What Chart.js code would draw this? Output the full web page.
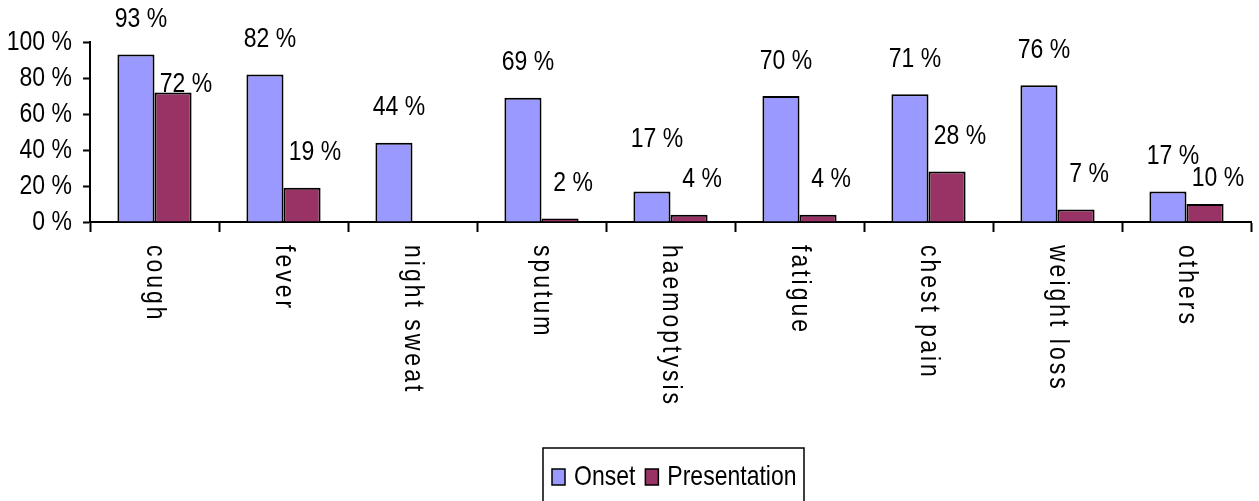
<!DOCTYPE html>
<html lang="en">
<head>
  <meta charset="UTF-8" />
  <title>Symptoms at onset and presentation</title>
  <script src="https://cdn.jsdelivr.net/npm/chart.js@4.4.0/dist/chart.umd.min.js"></script>
  <style>
    html, body { margin: 0; padding: 0; background: #fff; overflow: hidden; }
    canvas { display: block; }
  </style>
</head>
<body>
  <canvas id="symptomChart" width="1259" height="501"></canvas>

  <script>
    // --- data ---------------------------------------------------------
    const categories = ['cough', 'fever', 'night sweat', 'sputum', 'haemoptysis',
                        'fatigue', 'chest pain', 'weight loss', 'others'];
    const onset = [93, 82, 44, 69, 17, 70, 71, 76, 17];
    const presentation = [72, 19, null, 2, 4, 4, 28, 7, 10];
    const yTicks = [0, 20, 40, 60, 80, 100];

    const FONT = '23px "Liberation Sans", Arial, sans-serif';
    const STRETCH = 1.2; // text in the original is a bit taller than wide

    function drawText(ctx, text, x, y, align) {
      ctx.save();
      ctx.translate(x, y);
      ctx.scale(1, STRETCH);
      ctx.font = FONT;
      ctx.fillStyle = '#000';
      ctx.textAlign = align || 'center';
      ctx.textBaseline = 'middle';
      ctx.fillText(text, 0, 0);
      ctx.restore();
    }

    // label nudges (dataset, index) -> distance above bar top
    const labelLift = { '1-0': 8, '0-4': 52, '1-8': 26 };
    const labelShift = [5, 13];

    // --- custom drawing: y tick labels, value labels, rotated categories, legend
    const decor = {
      id: 'decor',
      afterDraw(chart) {
        const ctx = chart.ctx;
        const area = chart.chartArea;
        const y = chart.scales.y;
        const x = chart.scales.x;

        yTicks.forEach(v => {
          drawText(ctx, v + ' %', 72, y.getPixelForValue(v), 'right');
        });

        chart.data.datasets.forEach((ds, di) => {
          chart.getDatasetMeta(di).data.forEach((bar, i) => {
            const v = ds.data[i];
            if (v === null) return;
            const lift = labelLift[di + '-' + i] || 35;
            drawText(ctx, v + ' %', bar.x + labelShift[di], bar.y - lift, 'center');
          });
        });

        categories.forEach((c, i) => {
          ctx.save();
          ctx.translate(x.getPixelForValue(i), area.bottom + 23);
          ctx.rotate(Math.PI / 2);
          ctx.scale(1, STRETCH);
          ctx.font = FONT;
          ctx.letterSpacing = '3px';
          ctx.fillStyle = '#000';
          ctx.textAlign = 'left';
          ctx.textBaseline = 'middle';
          ctx.fillText(c, 0, 0);
          ctx.restore();
        });

        // legend box at the bottom
        const lx = 543, ly = 448, lw = 261, lh = 60;
        ctx.save();
        ctx.strokeStyle = '#000';
        ctx.lineWidth = 1.5;
        ctx.strokeRect(lx, ly, lw, lh);
        let cx = lx + 9;
        const cy = 477;
        chart.data.datasets.forEach(ds => {
          ctx.fillStyle = ds.backgroundColor;
          ctx.fillRect(cx, cy - 8, 13, 16);
          ctx.lineWidth = 1.5;
          ctx.strokeRect(cx, cy - 8, 13, 16);
          ctx.font = FONT;
          const w = ctx.measureText(ds.label).width;
          drawText(ctx, ds.label, cx + 22, cy, 'left');
          cx += 22 + w + 10;
        });
        ctx.restore();
      }
    };

    new Chart(document.getElementById('symptomChart'), {
      type: 'bar',
      data: {
        labels: categories,
        datasets: [
          { label: 'Onset', data: onset, backgroundColor: '#9999FF',
            borderColor: '#000', borderWidth: 2 },
          { label: 'Presentation', data: presentation, backgroundColor: '#993366',
            borderColor: '#000', borderWidth: 2 }
        ]
      },
      options: {
        responsive: false,
        animation: false,
        devicePixelRatio: 1,
        categoryPercentage: 0.575,
        barPercentage: 1,
        layout: { padding: { top: 42, right: 8, left: 0, bottom: 0 } },
        plugins: { legend: { display: false }, tooltip: { enabled: false } },
        scales: {
          x: {
            ticks: { display: false },
            grid: { drawOnChartArea: false, offset: true, color: '#000',
                    tickLength: 10, tickWidth: 2 },
            border: { color: '#000', width: 2 },
            afterFit: s => { s.height = 279; }
          },
          y: {
            min: 0, max: 100,
            ticks: { display: false, stepSize: 20 },
            grid: { drawOnChartArea: false, color: '#000', tickLength: 7, tickWidth: 2 },
            border: { color: '#000', width: 2 },
            afterFit: s => { s.width = 90; }
          }
        }
      },
      plugins: [decor]
    });
  </script>
</body>
</html>
